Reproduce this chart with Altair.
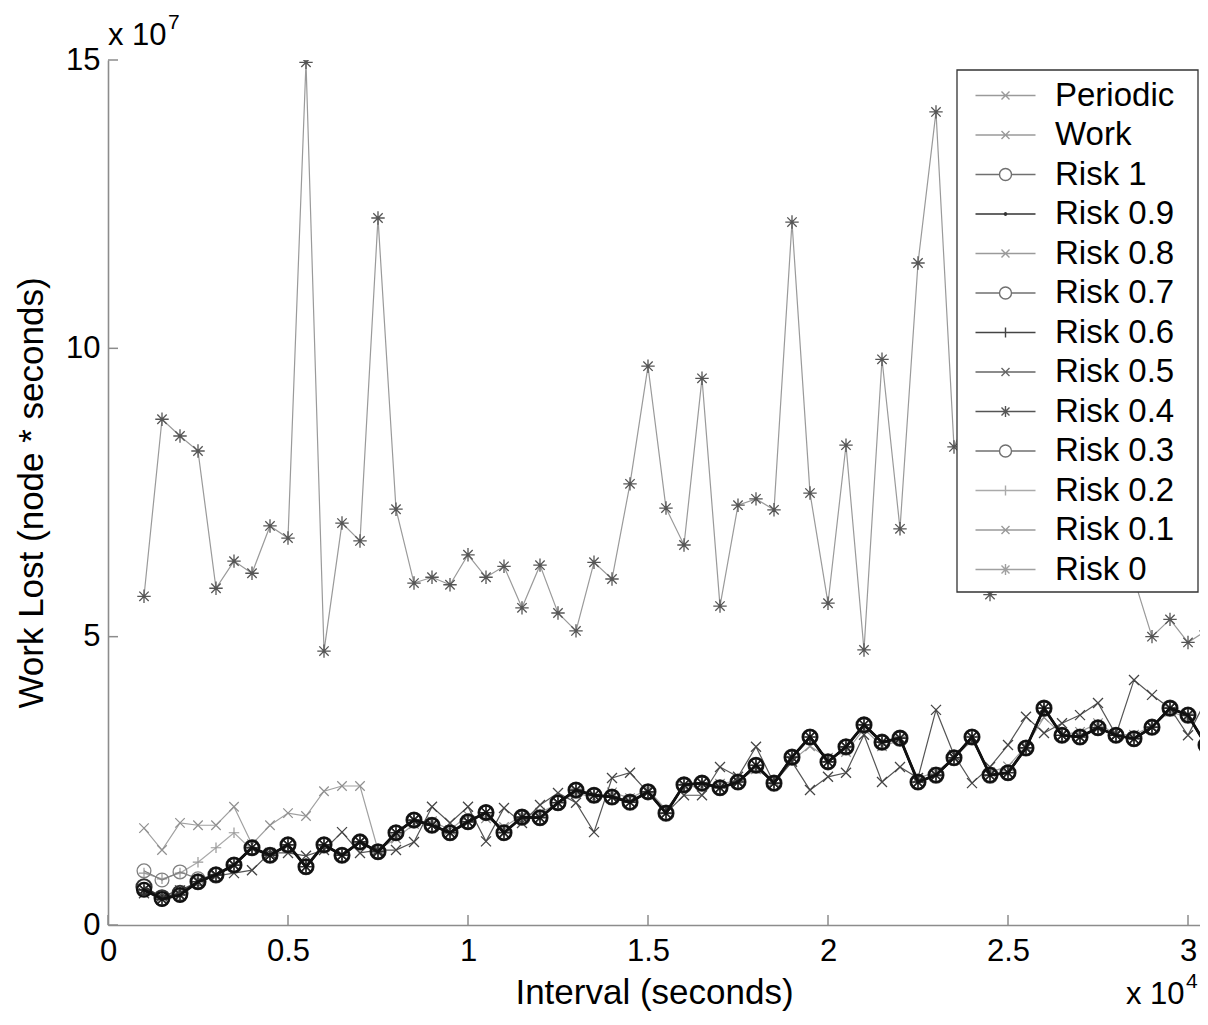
import altair as alt
import pandas as pd

# Interval values in units of 10^4 seconds
interval = [0.10, 0.15, 0.20, 0.25, 0.30, 0.35, 0.40, 0.45, 0.50, 0.55,
            0.60, 0.65, 0.70, 0.75, 0.80, 0.85, 0.90, 0.95, 1.00, 1.05,
            1.10, 1.15, 1.20, 1.25, 1.30, 1.35, 1.40, 1.45, 1.50, 1.55,
            1.60, 1.65, 1.70, 1.75, 1.80, 1.85, 1.90, 1.95, 2.00, 2.05,
            2.10, 2.15, 2.20, 2.25, 2.30, 2.35, 2.40, 2.45, 2.50, 2.55,
            2.60, 2.65, 2.70, 2.75, 2.80, 2.85, 2.90, 2.95, 3.00, 3.05]

# Work lost in units of 10^7 node*seconds
risk0 = [5.70, 8.77, 8.48, 8.22, 5.84, 6.31, 6.10, 6.92, 6.71, 14.96,
         4.75, 6.97, 6.66, 12.26, 7.21, 5.93, 6.03, 5.90, 6.42, 6.03,
         6.22, 5.50, 6.24, 5.41, 5.10, 6.29, 6.00, 7.65, 9.69, 7.23,
         6.59, 9.48, 5.53, 7.28, 7.39, 7.20, 12.19, 7.49, 5.58, 8.32,
         4.77, 9.81, 6.87, 11.48, 14.10, 8.29, 9.00, 5.73, 7.40, 8.60,
         6.90, 10.20, 7.70, 8.00, 9.10, 6.00, 5.00, 5.30, 4.90, 5.10]

cluster = [0.61, 0.45, 0.52, 0.75, 0.87, 1.04, 1.34, 1.21, 1.39, 1.01,
           1.39, 1.21, 1.44, 1.27, 1.60, 1.82, 1.73, 1.60, 1.79, 1.95,
           1.60, 1.87, 1.86, 2.12, 2.34, 2.25, 2.22, 2.13, 2.31, 1.94,
           2.43, 2.46, 2.38, 2.48, 2.77, 2.46, 2.91, 3.26, 2.83, 3.09,
           3.47, 3.17, 3.24, 2.48, 2.60, 2.90, 3.26, 2.60, 2.64, 3.07,
           3.76, 3.29, 3.26, 3.42, 3.29, 3.23, 3.43, 3.76, 3.64, 3.12]

periodic = [1.68, 1.30, 1.77, 1.73, 1.73, 2.05, 1.40, 1.73, 1.94, 1.89,
            2.32, 2.41, 2.41, 1.30, 1.50, 1.75, 1.80, 1.65, 1.90, 1.85,
            1.70, 1.90, 1.95, 2.10, 2.30, 2.20, 2.30, 2.20, 2.35, 2.00,
            2.40, 2.40, 2.45, 2.50, 2.70, 2.50, 2.85, 3.10, 2.90, 3.00,
            3.40, 3.10, 3.20, 2.55, 2.65, 2.90, 3.20, 2.65, 2.75, 3.10,
            3.60, 3.30, 3.35, 3.50, 3.30, 3.30, 3.45, 3.70, 3.60, 3.20]

work = [0.55, 0.50, 0.60, 0.75, 0.85, 0.90, 0.95, 1.25, 1.25, 1.20,
        1.30, 1.61, 1.25, 1.30, 1.30, 1.44, 2.05, 1.77, 2.05, 1.45,
        2.03, 1.77, 2.08, 2.29, 2.12, 1.61, 2.55, 2.64, 2.30, 1.94,
        2.25, 2.25, 2.74, 2.57, 3.09, 2.46, 2.83, 2.34, 2.57, 2.64,
        3.30, 2.48, 2.74, 2.55, 3.73, 2.95, 2.46, 2.74, 3.12, 3.61,
        3.33, 3.50, 3.64, 3.85, 3.30, 4.25, 3.99, 3.76, 3.29, 3.90]

risk1_start = [0.94, 0.78, 0.92, 0.80]
risk07_start = [0.66, 0.47, 0.55]
risk02_start = [0.90, 0.80, 0.90, 1.09, 1.34, 1.60, 1.30]

series_values = {
    "Periodic": periodic,
    "Work": work,
    "Risk 1": risk1_start + cluster[len(risk1_start):],
    "Risk 0.9": cluster,
    "Risk 0.8": cluster,
    "Risk 0.7": risk07_start + cluster[len(risk07_start):],
    "Risk 0.6": cluster,
    "Risk 0.5": cluster,
    "Risk 0.4": cluster,
    "Risk 0.3": cluster,
    "Risk 0.2": risk02_start + cluster[len(risk02_start):],
    "Risk 0.1": cluster,
    "Risk 0": risk0,
}
for k, v in series_values.items():
    assert len(v) == len(interval), k

legend_names = ["Periodic", "Work", "Risk 1", "Risk 0.9", "Risk 0.8", "Risk 0.7",
                "Risk 0.6", "Risk 0.5", "Risk 0.4", "Risk 0.3", "Risk 0.2",
                "Risk 0.1", "Risk 0"]
x_ticks = [0, 0.5, 1, 1.5, 2, 2.5, 3]
y_ticks = [0, 5, 10, 15]

FONT = "Liberation Sans"
TICK_FS = 31
TITLE_FS = 35
LEGEND_FS = 33

X_PATH = "M-1,-1L1,1M-1,1L1,-1"
PLUS_PATH = "M-1,0H1M0,-1V1"
STAR_PATH = "M-1,0H1M0,-1V1M-0.7,-0.7L0.7,0.7M-0.7,0.7L0.7,-0.7"

# style: line colour, line width, marker shape, marker colour, marker size, marker stroke, filled
styles = {
    "Periodic": ("#a0a0a0", 1.2, X_PATH, "#909090", 90, 1.2, False),
    "Work": ("#555555", 1.2, X_PATH, "#444444", 100, 1.3, False),
    "Risk 0.2": ("#aaaaaa", 1.2, PLUS_PATH, "#999999", 110, 1.2, False),
    "Risk 1": ("#808080", 1.2, "circle", "#808080", 190, 1.3, False),
    "Risk 0.8": ("#444444", 1.2, X_PATH, "#444444", 100, 1.2, False),
    "Risk 0.1": ("#555555", 1.2, X_PATH, "#555555", 100, 1.2, False),
    "Risk 0.5": ("#444444", 1.2, X_PATH, "#444444", 100, 1.2, False),
    "Risk 0.6": ("#333333", 1.2, PLUS_PATH, "#333333", 120, 1.2, False),
    "Risk 0.4": ("#222222", 1.5, STAR_PATH, "#222222", 170, 1.2, False),
    "Risk 0.9": ("#111111", 2.0, "circle", "#111111", 12, 1.0, True),
    "Risk 0.7": ("#333333", 2.2, "circle", "#333333", 230, 2.0, False),
    "Risk 0.3": ("#111111", 2.8, "circle", "#111111", 190, 2.3, False),
    "Risk 0": ("#9a9a9a", 1.2, STAR_PATH, "#555555", 180, 1.3, False),
}
draw_order = ["Periodic", "Work", "Risk 0.2", "Risk 1", "Risk 0.8", "Risk 0.1",
              "Risk 0.5", "Risk 0.6", "Risk 0.4", "Risk 0.9", "Risk 0.7",
              "Risk 0.3", "Risk 0"]

PX_PER_UNIT = 360.0
PLOT_W = 1092
PLOT_H = 865

xs = alt.Scale(domain=[0, PLOT_W / PX_PER_UNIT], nice=False, zero=False)
ys = alt.Scale(domain=[0, 15], nice=False)

x_axis = alt.Axis(values=x_ticks, format="~g", title="Interval (seconds)", ticks=False,
                  grid=False, labelFlush=False, labelOverlap=False, labelPadding=11,
                  domainColor="#8c8c8c", domainWidth=1.6,
                  labelFont=FONT, labelFontSize=TICK_FS, labelColor="black",
                  titleFont=FONT, titleFontSize=TITLE_FS, titleFontWeight="normal",
                  titleColor="black", titlePadding=9)
y_axis = alt.Axis(values=y_ticks, format="~g", title="Work Lost (node * seconds)", ticks=False,
                  grid=False, labelFlush=False, labelOverlap=False, labelPadding=8,
                  domainColor="#8c8c8c", domainWidth=1.6,
                  labelFont=FONT, labelFontSize=TICK_FS, labelColor="black",
                  titleFont=FONT, titleFontSize=TITLE_FS, titleFontWeight="normal",
                  titleColor="black", titlePadding=16)

X = alt.X("x:Q", scale=xs, axis=x_axis)
Y = alt.Y("y:Q", scale=ys, axis=y_axis)

rows = []
for name in legend_names:
    for xv, yv in zip(interval, series_values[name]):
        rows.append({"x": xv, "y": yv, "series": name})
df = pd.DataFrame(rows)

layers = []
for name in draw_order:
    lc, lw, shape, mc, msize, msw, filled = styles[name]
    d = df[df["series"] == name]
    base = alt.Chart(d)
    layers.append(base.mark_line(color=lc, strokeWidth=lw, clip=True).encode(x=X, y=Y))
    if filled:
        pt = base.mark_point(shape=shape, size=msize, color=mc, filled=True,
                             opacity=1, clip=True)
    else:
        pt = base.mark_point(shape=shape, size=msize, color=mc, filled=False,
                             strokeWidth=msw, opacity=1, clip=True)
    layers.append(pt.encode(x=X, y=Y))

# inward ticks
xt = pd.DataFrame({"x": x_ticks})
yt = pd.DataFrame({"y": y_ticks})
layers.append(alt.Chart(xt).mark_rule(color="#8c8c8c", strokeWidth=1.5).encode(
    x=X, y=alt.value(PLOT_H), y2=alt.value(PLOT_H - 10)))
layers.append(alt.Chart(yt).mark_rule(color="#8c8c8c", strokeWidth=1.5).encode(
    y=Y, x=alt.value(0), x2=alt.value(10)))

# legend frame (white box with border, drawn above the lines, below the legend entries)
one = pd.DataFrame({"a": [0]})
layers.append(alt.Chart(one).mark_rect(fill="white", stroke="#333333", strokeWidth=1.3).encode(
    x=alt.value(849), x2=alt.value(1090), y=alt.value(10), y2=alt.value(532)))

# legend (line + marker symbols)
L_X = "M-3,0H3M-0.4,-0.4L0.4,0.4M-0.4,0.4L0.4,-0.4"
L_O = "M-3,0H-0.6M0.6,0H3M0.6,0A0.6,0.6,0,1,1,-0.6,0A0.6,0.6,0,1,1,0.6,0"
L_DOT = "M-3,0H3M0.12,0A0.12,0.12,0,1,1,-0.12,0A0.12,0.12,0,1,1,0.12,0"
L_PLUS = "M-3,0H3M0,-0.5V0.5"
L_STAR = "M-3,0H3M-0.4,-0.4L0.4,0.4M-0.4,0.4L0.4,-0.4M0,-0.55V0.55"
legend_shapes = [L_X, L_X, L_O, L_DOT, L_X, L_O, L_PLUS, L_X, L_STAR, L_O, L_PLUS, L_X, L_STAR]
legend_colors = ["#9a9a9a", "#9a9a9a", "#707070", "#333333", "#9a9a9a", "#707070",
                 "#444444", "#666666", "#555555", "#707070", "#aaaaaa", "#9a9a9a", "#a0a0a0"]

leg = alt.Legend(title=None,
                 orient="none", legendX=849, legendY=11, padding=8,
                 symbolSize=400, symbolStrokeWidth=1.4, symbolOffset=24,
                 symbolFillColor="transparent",
                 labelOffset=33, labelFont=FONT, labelFontSize=LEGEND_FS, labelColor="black",
                 labelLimit=400, rowPadding=5.5)

legend_layer = alt.Chart(df).mark_point(filled=False, opacity=1).encode(
    shape=alt.Shape("series:N", scale=alt.Scale(domain=legend_names, range=legend_shapes), legend=leg),
    stroke=alt.Stroke("series:N", scale=alt.Scale(domain=legend_names, range=legend_colors), legend=leg),
).transform_filter("datum.y < -100")
layers.append(legend_layer)

# exponent annotations
def txt(t, x, y, size, align="left"):
    return alt.Chart(one).mark_text(text=t, font=FONT, fontSize=size, align=align,
                                    baseline="alphabetic", color="black").encode(
        x=alt.value(x), y=alt.value(y))

layers.append(txt("x 10", 0, -15, TICK_FS))
layers.append(txt("7", 60, -31, 21))
layers.append(txt("x 10", 1018, 944, TICK_FS))
layers.append(txt("4", 1078, 928, 21))

chart = alt.layer(*layers).properties(
    width=PLOT_W, height=PLOT_H,
    padding={"left": 100, "top": 52, "right": 0, "bottom": 90},
    autosize=alt.AutoSizeParams(type="none"),
    background="white",
).configure_view(stroke=None)

chart.save("out.html", embed_options={"renderer": "svg", "actions": False})
